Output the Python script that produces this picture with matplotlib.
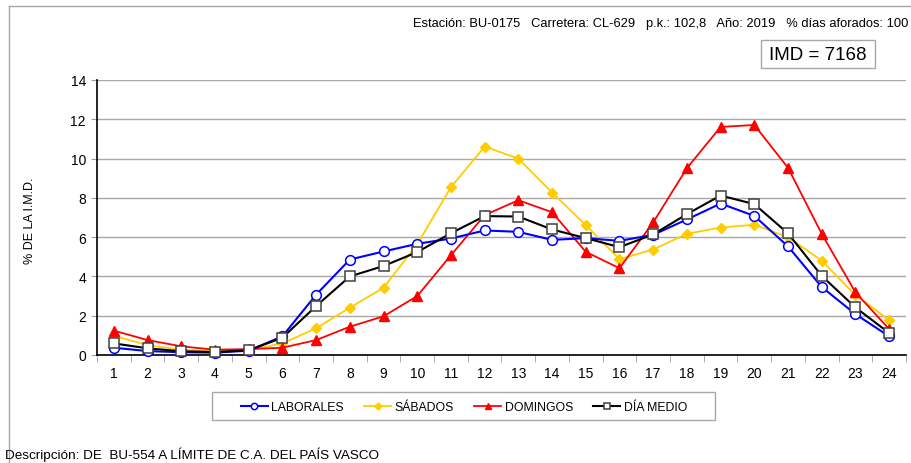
import matplotlib
matplotlib.use("Agg")
import matplotlib.pyplot as plt
from matplotlib.lines import Line2D
from matplotlib.patches import Rectangle

plt.rcParams['font.family'] = ['Liberation Sans', 'DejaVu Sans']

hours = list(range(1, 25))
laborales = [0.37, 0.20, 0.14, 0.12, 0.22, 0.95, 3.07, 4.86, 5.27, 5.66, 5.93, 6.34,
             6.27, 5.86, 5.95, 5.81, 6.12, 6.90, 7.71, 7.08, 5.53, 3.46, 2.08, 0.95]
sabados = [0.98, 0.50, 0.27, 0.20, 0.24, 0.59, 1.36, 2.41, 3.42, 5.64, 8.54, 10.61,
           10.00, 8.27, 6.61, 4.88, 5.37, 6.17, 6.49, 6.63, 6.00, 4.80, 3.05, 1.78]
domingos = [1.24, 0.76, 0.44, 0.27, 0.30, 0.37, 0.76, 1.44, 1.97, 3.00, 5.08, 7.12,
            7.88, 7.27, 5.25, 4.42, 6.75, 9.51, 11.61, 11.71, 9.53, 6.17, 3.19, 1.32]
dia_medio = [0.59, 0.34, 0.19, 0.15, 0.24, 0.88, 2.49, 4.00, 4.53, 5.24, 6.20, 7.07,
             7.05, 6.39, 5.95, 5.49, 6.14, 7.17, 8.12, 7.68, 6.19, 4.03, 2.42, 1.12]

W, H = 912, 464
fig = plt.figure(figsize=(W / 100, H / 100), dpi=100)

# outer frame (only top and left edges visible)
fig.add_artist(Line2D([9 / W, 1], [1 - 7 / H, 1 - 7 / H], color='#a8a8a8', lw=1))
fig.add_artist(Line2D([9 / W, 9 / W], [0, 1 - 7 / H], color='#a8a8a8', lw=1))

ax = fig.add_axes([97 / W, (H - 356) / H, (906 - 97) / W, (356 - 81) / H])

ax.plot(hours, sabados, color='#ffcc00', lw=1.3, marker='D', ms=5.5,
        mfc='#ffcc00', mec='#ffcc00', label='SÁBADOS', clip_on=False, zorder=3)
ax.plot(hours, domingos, color='#ff0000', lw=1.3, marker='^', ms=7.5,
        mfc='#ff0000', mec='#ff0000', label='DOMINGOS', clip_on=False, zorder=3)
ax.plot(hours, laborales, color='#0000ff', lw=1.5, marker='o', ms=7,
        mfc='white', mec='#0000ff', mew=1.1, label='LABORALES', clip_on=False, zorder=4)
ax.plot(hours, dia_medio, color='black', lw=1.5, marker='s', ms=7,
        mfc='white', mec='#404040', mew=1.1, label='DÍA MEDIO', clip_on=False, zorder=5)

ax.set_xlim(0.5, 24.5)
ax.set_ylim(0, 14)
ax.set_yticks(range(0, 15, 2))
ax.set_xticks(hours)
ax.set_xticks([h + 0.5 for h in range(0, 25)], minor=True)
ax.tick_params(axis='x', which='major', length=0, labelsize=10, pad=8)
ax.tick_params(axis='x', which='minor', length=5, color='#a0a0a0')
ax.tick_params(axis='y', length=4, color='#a0a0a0', labelsize=10, pad=4)
ax.grid(axis='y', color='#a8a8a8', lw=1)
ax.set_axisbelow(True)
for s in ['top', 'right']:
    ax.spines[s].set_visible(False)
ax.spines['left'].set_linewidth(1.2)
ax.spines['bottom'].set_linewidth(1.2)

fig.text(30 / W, 1 - 221 / H, '% DE LA I.M.D.', rotation=90, ha='center', va='center', fontsize=9)

fig.text(908 / W, 1 - 24 / H,
         'Estación: BU-0175   Carretera: CL-629   p.k.: 102,8   Año: 2019   % días aforados: 100',
         ha='right', va='center', fontsize=9.3)

fig.add_artist(Rectangle((761 / W, 1 - 69 / H), (875 - 761) / W, 28 / H,
                         transform=fig.transFigure, fill=False, ec='#a8a8a8', lw=1))
fig.text(818 / W, 1 - 55 / H, 'IMD = 7168', ha='center', va='center', fontsize=13.5)

handles, labels = ax.get_legend_handles_labels()
order = [2, 0, 1, 3]
leg = fig.legend([handles[i] for i in order], [labels[i] for i in order],
                 loc='lower left', ncol=4, mode='expand',
                 bbox_to_anchor=(234 / W, 1 - 421 / H, (694 - 234) / W, 28 / H),
                 borderaxespad=0, frameon=False,
                 fontsize=8.8, markerscale=0.65, handlelength=2.2,
                 handletextpad=0.3, borderpad=0.55)
fig.add_artist(Rectangle((212 / W, 1 - 421 / H), (715 - 212) / W, 28 / H,
                         transform=fig.transFigure, fill=False, ec='#a8a8a8', lw=1))

fig.text(5 / W, 1 - 455 / H, 'Descripción: DE  BU-554 A LÍMITE DE C.A. DEL PAÍS VASCO',
         ha='left', va='center', fontsize=9.7)

fig.savefig('out.png', dpi=100)
